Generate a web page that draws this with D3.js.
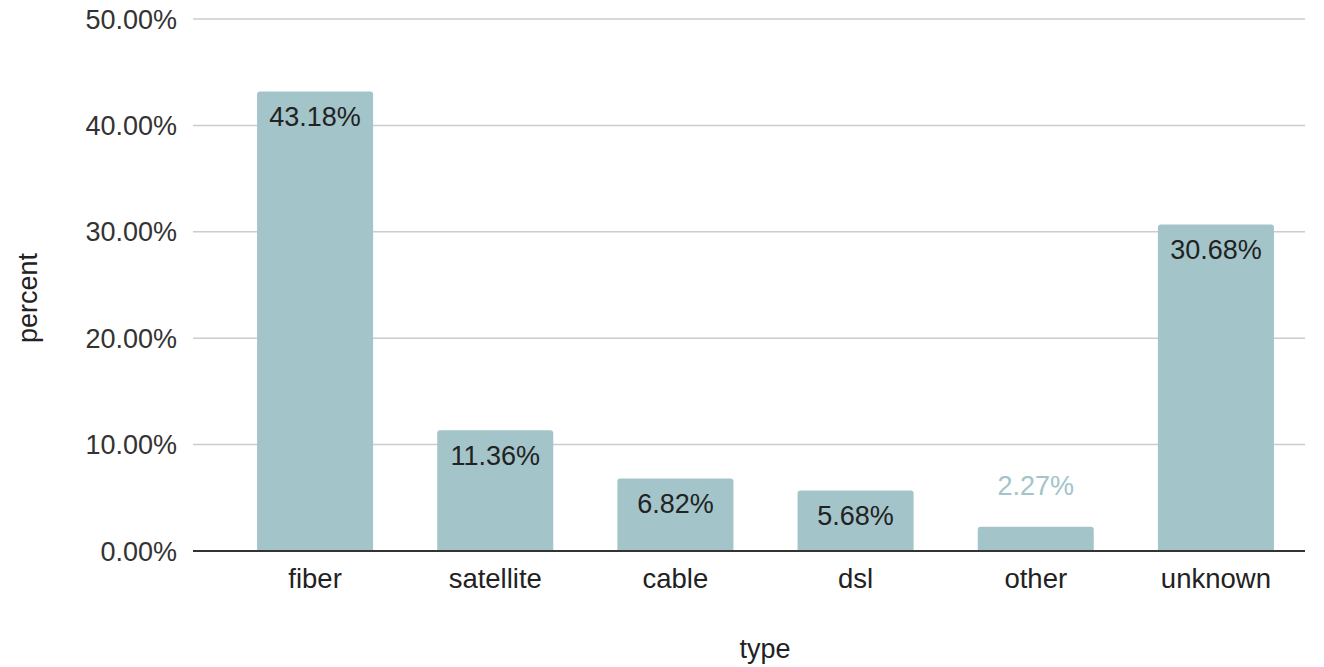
<!DOCTYPE html>
<html><head><meta charset="utf-8">
<script src="https://cdn.jsdelivr.net/npm/d3@7"></script>
<style>html,body{margin:0;padding:0;background:#fff;}svg{display:block;font-family:"Liberation Sans",Arial,sans-serif;}</style>
</head><body><svg id="c" width="1324" height="667"></svg>
<script>
const categories = ["fiber","satellite","cable","dsl","other","unknown"];
const values = [43.18, 11.36, 6.82, 5.68, 2.27, 30.68];
const yTicks = [0, 10, 20, 30, 40, 50];
const xTitle = "type", yTitle = "percent";

const svg = d3.select("#c");
const gridLeft = 193, gridRight = 1305;
const x = d3.scaleBand().domain(categories).range([225, 1306]).paddingInner(0.356).paddingOuter(0.178);
const y = d3.scaleLinear().domain([0, 50]).range([551, 19]);
const color = "#a3c4c9";
const fs = 27;

// gridlines
svg.append("g").selectAll("line").data(yTicks.filter(d=>d>0)).join("line")
  .attr("x1", gridLeft).attr("x2", gridRight)
  .attr("y1", d=>y(d)).attr("y2", d=>y(d))
  .attr("stroke", "#cccccc").attr("stroke-width", 1.5);

// y tick labels
svg.append("g").selectAll("text").data(yTicks).join("text")
  .attr("x", 177).attr("y", d=>y(d)+9.5)
  .attr("text-anchor", "end").attr("font-size", fs).attr("fill", "#333")
  .text(d=>d3.format(".2f")(d)+"%");

// bars with rounded top
const r = 3;
svg.append("g").selectAll("path").data(categories).join("path")
  .attr("fill", color)
  .attr("d", (c,i)=>{
    const x0 = x(c), w = x.bandwidth(), y0 = y(values[i]), yb = y(0);
    return `M${x0},${yb}V${y0+r}Q${x0},${y0} ${x0+r},${y0}H${x0+w-r}Q${x0+w},${y0} ${x0+w},${y0+r}V${yb}Z`;
  });

// value labels
const inside = v => (y(0)-y(v)) > 45;
svg.append("g").selectAll("text").data(categories).join("text")
  .attr("x", c=>x(c)+x.bandwidth()/2)
  .attr("y", (c,i)=> inside(values[i]) ? y(values[i])+34.5 : y(values[i])-32)
  .attr("text-anchor", "middle").attr("font-size", fs)
  .attr("fill", (c,i)=> inside(values[i]) ? "#222" : color)
  .text((c,i)=>values[i].toFixed(2)+"%");

// x axis line
svg.append("line").attr("x1", gridLeft).attr("x2", gridRight)
  .attr("y1", y(0)).attr("y2", y(0)).attr("stroke", "#333").attr("stroke-width", 2);

// category labels
svg.append("g").selectAll("text").data(categories).join("text")
  .attr("x", c=>x(c)+x.bandwidth()/2).attr("y", 588)
  .attr("text-anchor", "middle").attr("font-size", 27.5).attr("fill", "#222")
  .text(c=>c);

// axis titles
svg.append("text").attr("x", 765).attr("y", 658)
  .attr("text-anchor", "middle").attr("font-size", 27).attr("fill", "#222").text(xTitle);
svg.append("text").attr("transform", "translate(37,298) rotate(-90)")
  .attr("text-anchor", "middle").attr("font-size", 27).attr("fill", "#222").text(yTitle);
</script></body></html>
